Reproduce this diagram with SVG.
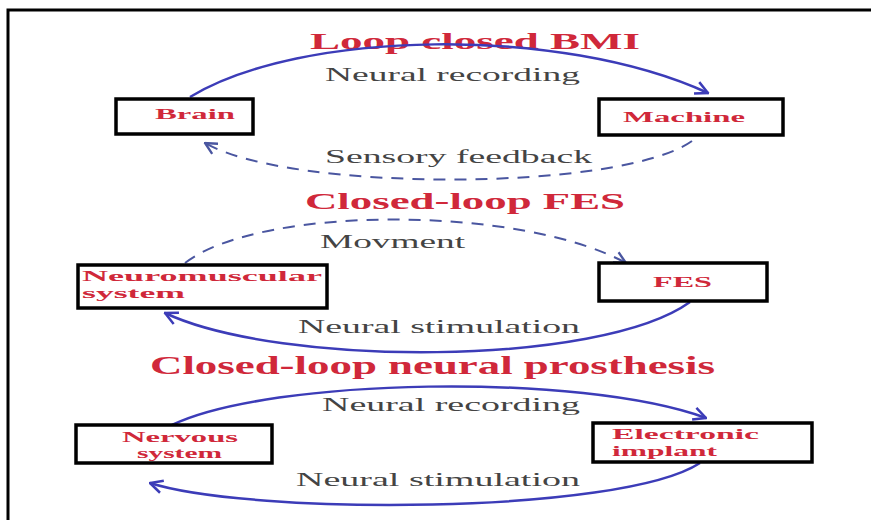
<svg xmlns="http://www.w3.org/2000/svg" width="871" height="520" viewBox="0 0 871 520">
<style>
.box{fill:#fff;stroke:#000;stroke-width:3.5}
.title{font-family:"Liberation Serif",serif;font-weight:bold;fill:#d0283a;font-size:24px}
.lbl{font-family:"Liberation Serif",serif;fill:#444;font-size:19px}
.nl{font-family:"Liberation Serif",serif;font-weight:bold;fill:#d0283a;font-size:15px}
.solid{fill:none;stroke:#3c3cb8;stroke-width:2.5;marker-end:url(#ah)}
.dash{fill:none;stroke:#4a56a0;stroke-width:2;stroke-dasharray:12 9;marker-end:url(#ahd)}
</style>
<defs>
<marker id="ah" viewBox="0 0 12 12" refX="11" refY="6" markerWidth="6" markerHeight="6" orient="auto" markerUnits="strokeWidth">
<path d="M1,1 L11,6 L1,11" fill="none" stroke="#3c3cb8" stroke-width="2"/>
</marker>
<marker id="ahd" viewBox="0 0 12 12" refX="11" refY="6" markerWidth="7" markerHeight="7" orient="auto" markerUnits="strokeWidth">
<path d="M1,1 L11,6 L1,11" fill="none" stroke="#4a56a0" stroke-width="2"/>
</marker>
</defs>
<rect width="871" height="520" fill="#fff"/>
<path d="M8,520 V10 H871" fill="none" stroke="#000" stroke-width="3"/>
<g id="titles">
<text class="title" x="310" y="49" textLength="330" lengthAdjust="spacingAndGlyphs">Loop closed BMI</text>
<text class="title" x="305" y="209" textLength="320" lengthAdjust="spacingAndGlyphs">Closed-loop FES</text>
<text class="title" x="150" y="374" textLength="565" lengthAdjust="spacingAndGlyphs" style="font-size:25px">Closed-loop neural prosthesis</text>
</g>
<g id="connectors">
<path class="solid" d="M190,97 C300,30 560,25 708,93"/>
<path class="dash" d="M692,141 C620,192 290,192 205,143"/>
<path class="dash" d="M185,263 C260,205 520,205 626,263"/>
<path class="solid" d="M690,302 C600,367 280,367 165,313"/>
<path class="solid" d="M172,425 C270,378 580,372 706,418"/>
<path class="solid" d="M700,463 C620,515 250,515 150,483"/>
</g>
<g id="edge-labels">
<text class="lbl" x="325" y="81" textLength="255" lengthAdjust="spacingAndGlyphs">Neural recording</text>
<text class="lbl" x="325" y="163" textLength="267" lengthAdjust="spacingAndGlyphs">Sensory feedback</text>
<text class="lbl" x="320" y="248" textLength="145" lengthAdjust="spacingAndGlyphs">Movment</text>
<text class="lbl" x="298" y="333" textLength="282" lengthAdjust="spacingAndGlyphs">Neural stimulation</text>
<text class="lbl" x="322" y="411" textLength="258" lengthAdjust="spacingAndGlyphs">Neural recording</text>
<text class="lbl" x="296" y="486" textLength="284" lengthAdjust="spacingAndGlyphs">Neural stimulation</text>
</g>
<g id="brain"><rect class="box" x="116" y="99" width="137" height="35"/>
<text class="nl" x="155" y="119" textLength="80" lengthAdjust="spacingAndGlyphs">Brain</text></g>
<g id="machine"><rect class="box" x="599" y="99" width="184" height="36"/>
<text class="nl" x="623" y="122" textLength="122" lengthAdjust="spacingAndGlyphs">Machine</text></g>
<g id="neuromuscular"><rect class="box" x="78" y="265" width="249" height="43"/>
<text class="nl" x="82" y="281" textLength="240" lengthAdjust="spacingAndGlyphs">Neuromuscular</text>
<text class="nl" x="82" y="298" textLength="103" lengthAdjust="spacingAndGlyphs">system</text></g>
<g id="fes"><rect class="box" x="599" y="263" width="168" height="38"/>
<text class="nl" x="653" y="287" textLength="59" lengthAdjust="spacingAndGlyphs">FES</text></g>
<g id="nervous"><rect class="box" x="76" y="425" width="196" height="38"/>
<text class="nl" x="122" y="442" textLength="116" lengthAdjust="spacingAndGlyphs">Nervous</text>
<text class="nl" x="137" y="458" textLength="85" lengthAdjust="spacingAndGlyphs">system</text></g>
<g id="implant"><rect class="box" x="593" y="423" width="219" height="39"/>
<text class="nl" x="612" y="439" textLength="147" lengthAdjust="spacingAndGlyphs">Electronic</text>
<text class="nl" x="612" y="456" textLength="105" lengthAdjust="spacingAndGlyphs">implant</text></g>
</svg>
